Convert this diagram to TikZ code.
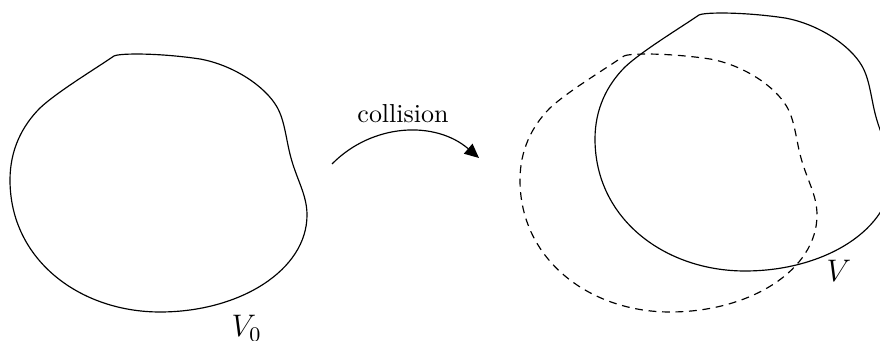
\documentclass[tikz,border=0pt]{standalone}
\usetikzlibrary{arrows.meta}
\begin{document}
\begin{tikzpicture}[x=0.385pt,y=-0.385pt,
  blob/.style={line width=0.45pt},
  dashblob/.style={line width=0.45pt,dash pattern=on 3pt off 2.2pt},
  lbl/.style={inner sep=0pt,font=\large},
  arr/.style={line width=0.45pt,-{Triangle[length=5.5pt,width=5pt]}}]
\useasboundingbox (0,0) rectangle (880,341);
\clip (0,0) rectangle (880,341);
\def\blobpath{(114,56) .. controls (120,53) and (160,53) .. (200,59)
 .. controls (233,65) and (265,86) .. (277,107)
 .. controls (285,121) and (286,140) .. (291,158)
 .. controls (297,180) and (307,195) .. (307,215)
 .. controls (307,270) and (240,312) .. (160,312)
 .. controls (80,312) and (10,260) .. (10,180)
 .. controls (10,150) and (22,126) .. (40,108)
 .. controls (57,92) and (95,69) .. (114,56) -- cycle}
% initial volume
\draw[blob] \blobpath;
% dashed copy
\begin{scope}[shift={(510,0)}]
\draw[dashblob] \blobpath;
\end{scope}
% moved volume
\begin{scope}[shift={(585,-41)}]
\draw[blob] \blobpath;
\end{scope}
% labels
\node[lbl,anchor=base west] (v0) at (231,337) {$V_0$};
\node[lbl,anchor=base west] (v) at (826,282) {$V$};
\node[inner sep=0pt,anchor=base] (col) at (403,123) {collision};
% arrow
\coordinate (arrS) at (332,164);
\coordinate (arrE) at (479,158);
\draw[arr] (arrS) .. controls (372.5,123) and (435.3,120.4) .. (arrE);
\end{tikzpicture}
\end{document}
